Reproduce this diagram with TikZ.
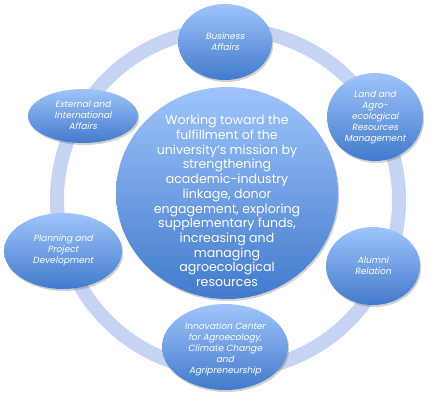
\documentclass[tikz,border=0pt]{standalone}
\usepackage{fontspec}
\setmainfont{Poppins}[ItalicFont=Poppins, ItalicFeatures={FakeSlant=0.2}]
\usetikzlibrary{shapes.geometric,shadows}
\definecolor{ringc}{RGB}{196,212,242}
\definecolor{topc}{RGB}{158,196,250}
\definecolor{botc}{RGB}{66,122,204}
\tikzset{
  bub/.style={ellipse, inner sep=0pt, top color=topc, bottom color=botc, draw=none,
    drop shadow={shadow xshift=1.2pt, shadow yshift=-2pt, opacity=0.3, fill=black!60}},
  btxt/.style={text=white, align=center, inner sep=0pt, font=\fontsize{9}{11}\selectfont\itshape},
  ctxt/.style={text=white, align=center, inner sep=0pt, font=\fontsize{12.6}{14.7}\selectfont}
}
\begin{document}
\begin{tikzpicture}[x=1pt,y=1pt]
\useasboundingbox (0,0) rectangle (434,400);
\node[circle, minimum size=342pt, inner sep=0pt] (ring) at (228,200) {};
\draw[ringc, line width=14pt] (ring.center) circle (171);
\node[bub, minimum width=94pt, minimum height=76pt] (ba) at (225,358) {};
\node[btxt] (bat) at (ba.center) {Business\\Affairs};
\node[bub, minimum width=96pt, minimum height=88pt] (la) at (375,283) {};
\node[btxt] (lat) at (la.center) {Land and\\Agro-\\ecological\\Resources\\Management};
\node[bub, minimum width=94pt, minimum height=78pt] (ar) at (373,134) {};
\node[btxt] (art) at (ar.center) {Alumni\\Relation};
\node[bub, minimum width=126pt, minimum height=86pt] (ic) at (225,53) {};
\node[btxt] (ict) at ([yshift=-2pt]ic.center) {Innovation Center\\for Agroecology,\\Climate Change\\and\\Agripreneurship};
\node[bub, minimum width=118pt, minimum height=76pt] (pp) at (63,149) {};
\node[btxt] (ppt) at ([yshift=1pt]pp.center) {Planning and\\Project\\Development};
\node[bub, minimum width=110pt, minimum height=54pt] (ea) at (83,284) {};
\node[btxt] (eat) at ([yshift=1pt]ea.center) {External and\\International\\Affairs};
\node[bub, minimum width=222pt, minimum height=212pt] (c) at (227,207) {};
\node[ctxt] (ct) at ([yshift=-8pt]c.center) {Working toward the\\fulfillment of the\\university's mission by\\strengthening\\academic-industry\\linkage, donor\\engagement, exploring\\supplementary funds,\\increasing and\\managing\\agroecological\\resources};
\end{tikzpicture}
\end{document}
